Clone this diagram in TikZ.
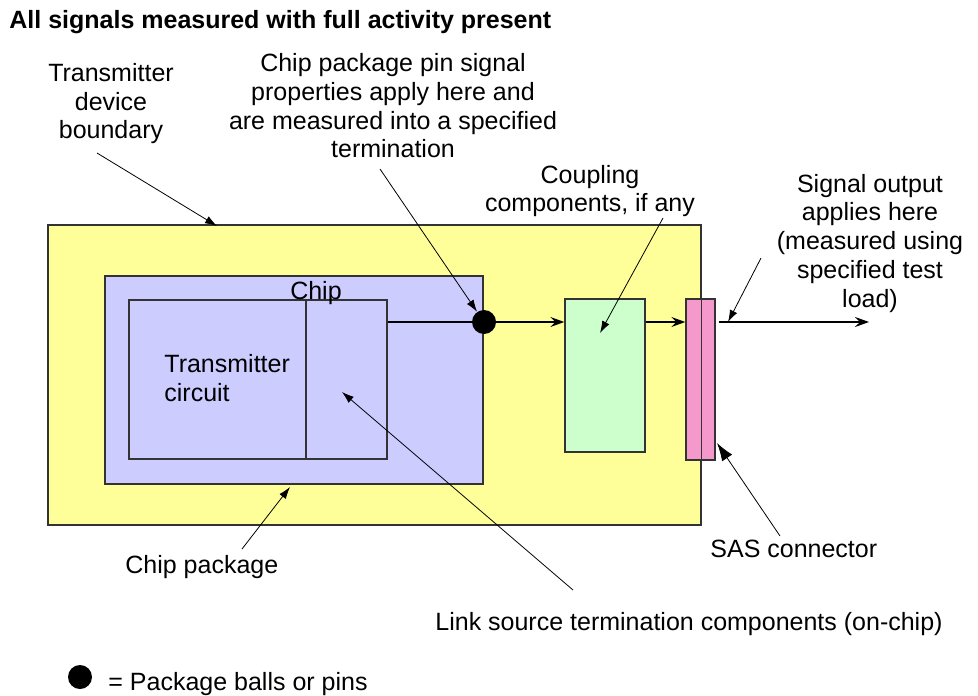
\documentclass[tikz,border=0pt]{standalone}
\usepackage{fontspec}
\setmainfont{Liberation Sans}
\usetikzlibrary{arrows.meta,fit}

\definecolor{amarilloLimite}{HTML}{FFFF99}
\definecolor{azulChip}{HTML}{CCCCFF}
\definecolor{verdeAcoplo}{HTML}{CCFFCC}
\definecolor{rosaConector}{HTML}{F599CC}
\newcommand{\fuenteTexto}{\fontsize{12.5pt}{14.35pt}\selectfont}

\begin{document}
\begin{tikzpicture}[x=0.5pt, y=-0.5pt, >=Stealth, font=\fuenteTexto]
        % Estilos
        \tikzstyle{nodoCaja} = [draw=black!80, line width=0.7pt, inner sep=0pt]
        \tikzstyle{nodoNota} = [align=center, inner sep=0pt, anchor=base]
        \tikzstyle{nodoTexto} = [inner sep=0pt, anchor=base west]
        \tikzstyle{nodoBola} = [circle, fill=black, minimum size=12pt, inner sep=0pt]
        \tikzstyle{flechaSenal} = [line width=0.7pt, -{Stealth[length=7pt, width=5pt, inset=2.5pt]}]
        \tikzstyle{flechaNota} = [line width=0.4pt, -{Latex[length=6pt, width=4pt]}]

        \useasboundingbox (0,0) rectangle (978,695);

        % Cajas
        \node[nodoCaja, fill=amarilloLimite, fit={(48,225) (701,525)}] (limite) {};
        \node[nodoCaja, fill=azulChip, fit={(105,276) (483,484)}] (encapsulado) {};
        \node[nodoCaja, fill=azulChip, fit={(129,300) (306,459)}] (circuito) {};
        \node[nodoCaja, fill=azulChip, fit={(306,300) (387,459)}] (terminacion) {};
        \node[nodoCaja, fill=verdeAcoplo, fit={(565,299) (645,452)}] (acoplo) {};
        \node[nodoCaja, fill=rosaConector, fit={(686,299) (715,460)}] (conector) {};
        \draw[black!80, line width=0.7pt] (conector.north -| limite.east) -- (conector.south -| limite.east);

        \node[nodoNota] (chip) at (316,299) {Chip};
        \node[nodoTexto, align=left] (circuitoTxt) at (164,401) {Transmitter\\circuit};

        % Senal
        \node[nodoBola] (pin) at (484,322) {};
        \coordinate (salida) at (869,322);
        \draw[line width=0.7pt] (terminacion.east |- pin) -- (pin);
        \draw[flechaSenal] (pin) -- (pin -| acoplo.west);
        \draw[flechaSenal] (pin -| acoplo.east) -- (pin -| conector.west);
        \draw[flechaSenal] ([xshift=1.5pt]pin -| conector.east) -- (salida);

        % Notas
        \node[nodoTexto, font=\fuenteTexto\bfseries] (titulo) at (9,29) {All signals measured with full activity present};
        \node[nodoNota] (notaLimite) at (111,139) {Transmitter\\device\\boundary};
        \node[nodoNota] (notaPin) at (393,158) {Chip package pin signal\\properties apply here and\\are measured into a specified\\termination};
        \node[nodoNota] (notaAcoplo) at (590,212) {Coupling\\components, if any};
        \node[nodoNota] (notaSalida) at (870,307) {Signal output\\applies here\\(measured using\\specified test\\load)};
        \node[nodoTexto] (notaEncapsulado) at (125,573) {Chip package};
        \node[nodoTexto] (notaConector) at (710,557) {SAS connector};
        \node[nodoTexto] (notaTerminacion) at (435,630) {Link source termination components (on-chip)};

        % Flechas de las notas
        \coordinate (desdeLimite) at (97,153);
        \coordinate (hastaLimite) at (217,226);
        \coordinate (desdePin) at (380,169);
        \coordinate (desdeAcoplo) at (663,218);
        \coordinate (hastaAcoplo) at (600,333);
        \coordinate (desdeSalida) at (761,258);
        \coordinate (hastaSalida) at (728,322);
        \coordinate (desdeConector) at (780,536);
        \coordinate (hastaConector) at (717,443);
        \coordinate (desdeEncapsulado) at (242,549);
        \coordinate (hastaEncapsulado) at (290,487);
        \coordinate (desdeTerminacion) at (573,590);
        \coordinate (hastaTerminacion) at (342,392);
        \draw[flechaNota] (desdeLimite) -- (hastaLimite);
        \draw[flechaNota] (desdePin) -- (pin);
        \draw[flechaNota] (desdeAcoplo) -- (hastaAcoplo);
        \draw[flechaNota] (desdeSalida) -- (hastaSalida);
        \draw[flechaNota, -{Latex[length=9pt, width=6pt]}] (desdeConector) -- (hastaConector);
        \draw[flechaNota] (desdeEncapsulado) -- (hastaEncapsulado);
        \draw[flechaNota] (desdeTerminacion) -- (hastaTerminacion);

        % Leyenda
        \node[nodoBola] (bolaLeyenda) at (80,677) {};
        \node[nodoTexto] (leyenda) at (108,690) {= Package balls or pins};
\end{tikzpicture}
\end{document}
